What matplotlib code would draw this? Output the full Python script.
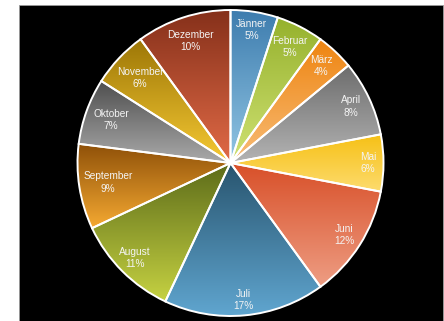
import matplotlib
matplotlib.use("Agg")

import matplotlib.pyplot as plt
import numpy as np
from matplotlib.colors import to_rgb
from matplotlib.patches import Rectangle

# Monthly shares (percent)
months = ["Jänner", "Februar", "März", "April", "Mai", "Juni",
          "Juli", "August", "September", "Oktober", "November", "Dezember"]
shares = [5, 5, 4, 8, 6, 12, 17, 11, 9, 7, 6, 10]

# Vertical gradient per slice: (top colour, bottom colour)
top_colors = ["#3d7cae", "#95b12c", "#ee8410", "#6c6c6c", "#f6c014", "#d84f28",
              "#28546e", "#5b6a19", "#8d4f08", "#4e4e4e", "#9c7606", "#85301a"]
bottom_colors = ["#92c6e4", "#d0e274", "#f8bd78", "#b4b4b4", "#fddc70", "#ee9e84",
                 "#60a6d0", "#c6d242", "#f6aa32", "#ababab", "#f7ca34", "#e26b47"]

# Radial position of each label as a fraction of the radius
label_r = [0.88, 0.85, 0.87, 0.87, 0.90, 0.88, 0.90, 0.88, 0.81, 0.83, 0.81, 0.84]

W, H = 444, 321
fig = plt.figure(figsize=(W / 100, H / 100), dpi=100, facecolor="white")
ax = fig.add_axes([0, 0, 1, 1])
ax.axis("off")

# black plot area with a thin grey rim
ax.add_patch(Rectangle((19, 0), 423.5, H - 5, facecolor="black",
                       edgecolor="#9a9a9a", linewidth=0.6, zorder=0))

cx, cy, R = 230.5, H - 163, 153
wedges, _ = ax.pie(shares, center=(cx, cy), radius=R, startangle=90,
                   counterclock=False,
                   wedgeprops=dict(facecolor="none", edgecolor="white",
                                   linewidth=1.4, zorder=3))

for i, w in enumerate(wedges):
    # sample the slice outline to find its vertical extent
    th = np.radians(np.linspace(w.theta1, w.theta2, 60))
    ys = np.concatenate([[cy], cy + R * np.sin(th)])
    xs = np.concatenate([[cx], cx + R * np.cos(th)])
    y0, y1 = ys.min(), ys.max()
    c_top = np.array(to_rgb(top_colors[i]))
    c_bot = np.array(to_rgb(bottom_colors[i]))
    t = np.linspace(0, 1, 128)[:, None]
    grad = (c_bot * (1 - t) + c_top * t)[:, None, :]
    im = ax.imshow(grad, extent=(xs.min() - 1, xs.max() + 1, y0 - 1, y1 + 1),
                   origin="lower", aspect="auto", interpolation="bilinear",
                   zorder=2)
    im.set_clip_path(w)

    mid = np.radians((w.theta1 + w.theta2) / 2)
    lx = cx + label_r[i] * R * np.cos(mid)
    ly = cy + label_r[i] * R * np.sin(mid)
    ax.text(lx, ly, f"{months[i]}\n{shares[i]}%", ha="center", va="center",
            color="#f4f4f4", fontsize=7.3, family="Liberation Sans",
            linespacing=1.3, zorder=4)

ax.set_xlim(0, W)
ax.set_ylim(0, H)
ax.set_aspect("equal")

fig.savefig("out.png", dpi=100, facecolor="white")
